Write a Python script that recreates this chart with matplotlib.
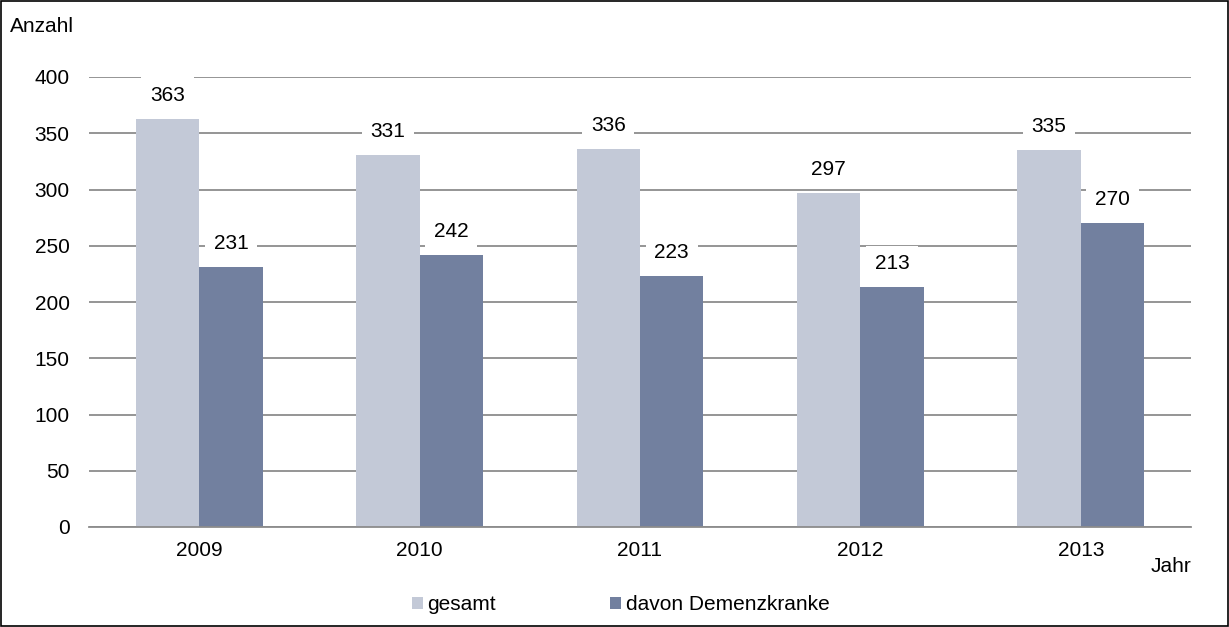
import numpy as np
import matplotlib.pyplot as plt
from matplotlib.patches import Rectangle

years = ["2009", "2010", "2011", "2012", "2013"]
gesamt = [363, 331, 336, 297, 335]
demenz = [231, 242, 223, 213, 270]
series_names = ["gesamt", "davon Demenzkranke"]

c_light = "#c3c9d7"
c_dark = "#72809f"
grid_col = "#8c8c8c"
fs = 15

plt.rcParams["font.family"] = ["Liberation Sans", "DejaVu Sans"]

fig = plt.figure(figsize=(12.29, 6.27), dpi=100)
ax = fig.add_axes([89 / 1229, 1 - 527 / 627, 1102 / 1229, 450 / 627])

x = np.arange(len(years))
w = 0.288
b1 = ax.bar(x - w / 2, gesamt, w, color=c_light, label=series_names[0], zorder=2)
b2 = ax.bar(x + w / 2, demenz, w, color=c_dark, label=series_names[1], zorder=2)

# value labels on white boxes, cutting through the gridlines
for bars, vals in ((b1, gesamt), (b2, demenz)):
    for rect, v in zip(bars, vals):
        ax.annotate(str(v), (rect.get_x() + rect.get_width() / 2, v),
                    xytext=(0, 17), textcoords="offset points", ha="center", va="center",
                    fontsize=fs, zorder=3,
                    bbox=dict(boxstyle="square,pad=0.42", fc="white", ec="none"))

ax.set_xlim(-0.5, len(years) - 0.5)
ax.set_ylim(0, 400)
ax.set_yticks(range(0, 401, 50))
ax.set_xticks(x)
ax.set_xticklabels(years)
ax.yaxis.grid(True, color=grid_col, linewidth=1.3, zorder=0)
ax.set_axisbelow(True)
for s in ["top", "right", "left"]:
    ax.spines[s].set_visible(False)
ax.spines["bottom"].set_color(grid_col)
ax.spines["bottom"].set_linewidth(1.3)
ax.tick_params(axis="both", length=0, labelsize=fs)
ax.tick_params(axis="y", pad=14)
ax.tick_params(axis="x", pad=10)

fig.text(10 / 1229, 1 - 27 / 627, "Anzahl", fontsize=fs, va="center", ha="left")
fig.text(1151 / 1229, 1 - 567 / 627, "Jahr", fontsize=fs, va="center", ha="left")

leg = fig.legend(loc="center", bbox_to_anchor=(0.505, 1 - 605 / 627), ncol=2, frameon=False,
                 fontsize=fs, handlelength=0.53, handleheight=0.53, handletextpad=0.2,
                 columnspacing=5.5)

fig.patches.append(Rectangle((0.0008, 0.0008), 0.9984, 0.9984, transform=fig.transFigure,
                             fill=False, ec="black", lw=1.2))

fig.savefig("out.png", dpi=100)
